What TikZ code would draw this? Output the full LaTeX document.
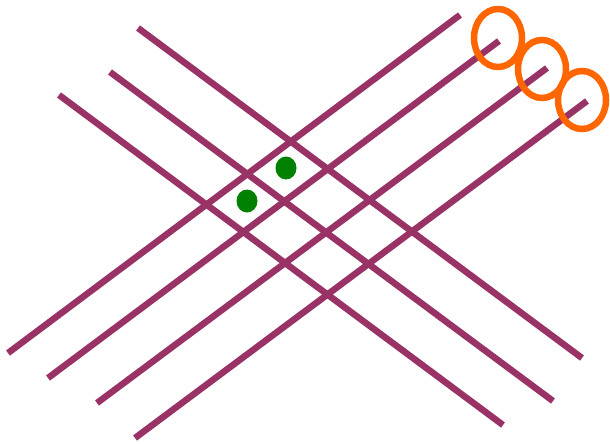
\documentclass[tikz,border=0pt]{standalone}
\usetikzlibrary{positioning}
\definecolor{plum}{HTML}{993366}
\definecolor{tangerine}{HTML}{FF6600}
\definecolor{leaf}{HTML}{008000}

\begin{document}
\begin{tikzpicture}[x=1pt, y=-1pt,
  wire/.style={draw=plum, line width=6.5pt},
  ring/.style={draw=tangerine, line width=6.5pt},
  dot/.style={fill=leaf}]
  \useasboundingbox (0,0) rectangle (610,444);
  % rising wires
  \coordinate (r1a) at (8,353);   \coordinate (r1b) at (460,15);
  \coordinate (r2a) at (48,378);  \coordinate (r2b) at (499,41);
  \coordinate (r3a) at (97,403);  \coordinate (r3b) at (547,68);
  \coordinate (r4a) at (135,438); \coordinate (r4b) at (587,101);
  % falling wires
  \coordinate (f1a) at (138,28);  \coordinate (f1b) at (582,358);
  \coordinate (f2a) at (110,72);  \coordinate (f2b) at (553,401);
  \coordinate (f3a) at (59,95);   \coordinate (f3b) at (503,425);
  \foreach \w in {r1,r2,r3,r4,f1,f2,f3}
    \draw[wire] (\w a) -- (\w b);
  % rings at the ends
  \coordinate (c1) at (498,38);
  \coordinate (c2) at (542,69);
  \coordinate (c3) at (582,100);
  \foreach \c in {c1,c2,c3}
    \draw[ring] (\c) ellipse [x radius=24, y radius=29];
  % dots
  \coordinate (d1) at (286,168);
  \coordinate (d2) at (247,201);
  \foreach \d in {d1,d2}
    \fill[dot] (\d) ellipse [x radius=10.5, y radius=11.5];
\end{tikzpicture}
\end{document}
